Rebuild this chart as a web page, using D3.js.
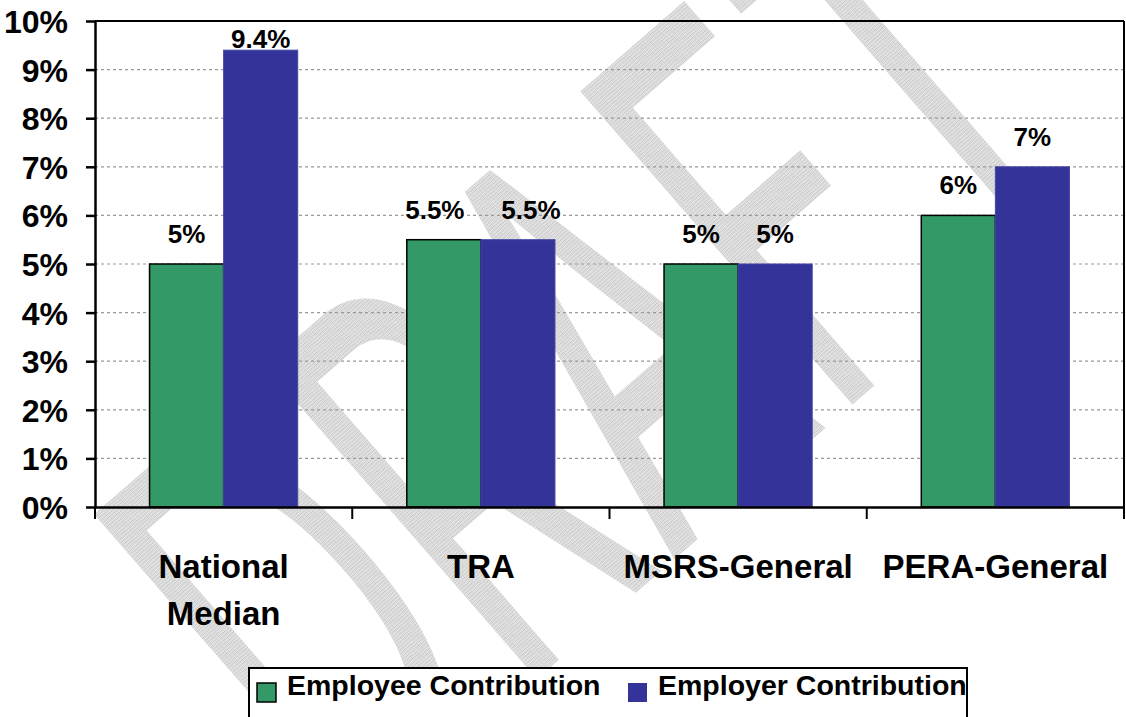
<!DOCTYPE html>
<html>
<head>
<meta charset="utf-8">
<script src="https://cdn.jsdelivr.net/npm/d3@7"></script>
<style>
  body { margin: 0; background: #fff; }
  text { font-family: "Liberation Sans", Arial, sans-serif; font-weight: bold; fill: #000; }
</style>
</head>
<body>
<script>
// data
var categories = ["National Median", "TRA", "MSRS-General", "PERA-General"];
var series = ["Employee Contribution", "Employer Contribution"];
var employee = [0.05, 0.055, 0.05, 0.06];
var employer = [0.094, 0.055, 0.05, 0.07];
var yTickValues = [0, 0.01, 0.02, 0.03, 0.04, 0.05, 0.06, 0.07, 0.08, 0.09, 0.10];

var colors = ["#339966", "#333399"];

// set the dimensions of the plot
var W = 1126, H = 717;
var plotLeft = 95, plotRight = 1124, plotTop = 21, plotBottom = 507;

var svg = d3.select("body")
  .append("svg")
  .attr("width", W)
  .attr("height", H);

// hatched grey for the watermark
var defs = svg.append("defs");
var pat = defs.append("pattern")
  .attr("id", "hatch")
  .attr("width", 3).attr("height", 3)
  .attr("patternUnits", "userSpaceOnUse");
pat.append("rect").attr("width", 3).attr("height", 3).attr("fill", "#e4e4e4");
pat.append("rect").attr("width", 1.5).attr("height", 1.5).attr("fill", "#bcbcbc");

// scales
var x0 = d3.scaleBand()
  .domain(categories)
  .range([plotLeft, plotRight])
  .paddingInner(0.424)
  .paddingOuter(0.212);

var x1 = d3.scaleBand()
  .domain(series)
  .range([0, x0.bandwidth()]);

var y = d3.scaleLinear()
  .domain([0, 0.10])
  .range([plotBottom, plotTop]);

// DRAFT watermark, behind everything
svg.append("text")
  .attr("transform", "translate(600,352) rotate(-41) scale(0.55,1)")
  .attr("text-anchor", "middle")
  .attr("dy", "0.36em")
  .style("font-family", "Inter, 'Liberation Sans', sans-serif")
  .style("font-size", "570px")
  .style("font-weight", "400")
  .style("fill", "url(#hatch)")
  .text("DRAFT");

// gridlines
svg.append("g")
  .selectAll("line")
  .data(yTickValues.filter(function(d) { return d > 0 && d < 0.10; }))
  .enter()
  .append("line")
    .attr("x1", plotLeft)
    .attr("x2", plotRight)
    .attr("y1", function(d) { return y(d); })
    .attr("y2", function(d) { return y(d); })
    .attr("stroke", "#999")
    .attr("stroke-width", 1.2)
    .style("stroke-dasharray", "3,3");

// bars
var groups = svg.append("g")
  .selectAll("g")
  .data(categories)
  .enter()
  .append("g")
    .attr("transform", function(d) { return "translate(" + x0(d) + ",0)"; });

var fmt = d3.format(".1~%");

var barData = function(c, i) {
  // push the two labels apart when they sit at the same height and are wide
  var clash = employee[i] === employer[i] && fmt(employee[i]).length > 2;
  return [
    { s: series[0], v: employee[i], k: 0, dx: clash ? -9 : 0 },
    { s: series[1], v: employer[i], k: 1, dx: clash ? 13 : 0 }
  ];
};

groups.selectAll("rect")
  .data(barData)
  .enter()
  .append("rect")
    .attr("x", function(d) { return x1(d.s); })
    .attr("width", x1.bandwidth())
    .attr("y", function(d) { return y(d.v); })
    .attr("height", function(d) { return y(0) - y(d.v); })
    .attr("fill", function(d) { return colors[d.k]; })
    .attr("stroke", function(d) { return d.k === 0 ? "#000" : "#4646a6"; })
    .attr("stroke-width", function(d) { return d.k === 0 ? 1.5 : 1; });

// value labels
groups.selectAll("text.val")
  .data(barData)
  .enter()
  .append("text")
    .attr("class", "val")
    .attr("x", function(d) { return x1(d.s) + x1.bandwidth() / 2 + d.dx; })
    .attr("y", function(d) { return Math.max(y(d.v) - 21, 48); })
    .attr("text-anchor", "middle")
    .style("font-size", "26px")
    .text(function(d) { return fmt(d.v); });

// plot frame top and right
svg.append("line")
  .attr("x1", plotLeft).attr("x2", plotRight).attr("y1", plotTop).attr("y2", plotTop)
  .attr("stroke", "#000").attr("stroke-width", 2);
svg.append("line")
  .attr("x1", plotRight).attr("x2", plotRight).attr("y1", plotTop).attr("y2", plotBottom)
  .attr("stroke", "#000").attr("stroke-width", 2);

// Y axis
var yAxis = svg.append("g")
  .attr("transform", "translate(" + plotLeft + ",0)")
  .call(d3.axisLeft(y)
    .tickValues(yTickValues)
    .tickFormat(d3.format(".0%"))
    .tickSize(9)
    .tickSizeOuter(0)
    .tickPadding(18));
yAxis.select(".domain").attr("stroke-width", 2.5);
yAxis.selectAll(".tick line").attr("stroke-width", 2.5);
yAxis.selectAll(".tick text")
  .style("font-size", "32px")
  .attr("dy", "0.36em");

// X axis
var xAxis = svg.append("g")
  .attr("transform", "translate(0," + plotBottom + ")")
  .call(d3.axisBottom(x0).tickSize(0).tickSizeOuter(0));
xAxis.select(".domain").attr("stroke-width", 2.5);

xAxis.selectAll(".tick text").each(function(d) {
  var t = d3.select(this);
  var words = d.split(" ");
  t.text(null)
    .attr("y", 71)
    .attr("dy", 0)
    .style("font-size", "33px");
  words.forEach(function(w, i) {
    t.append("tspan")
      .attr("x", 0)
      .attr("dy", i === 0 ? 0 : 47)
      .text(w);
  });
});

// category boundary ticks
xAxis.selectAll("line.bound")
  .data(d3.range(categories.length + 1))
  .enter()
  .append("line")
    .attr("class", "bound")
    .attr("x1", function(i) { return x0.range()[0] + i * x0.step(); })
    .attr("x2", function(i) { return x0.range()[0] + i * x0.step(); })
    .attr("y1", 0)
    .attr("y2", 12)
    .attr("stroke", "#000")
    .attr("stroke-width", 2);

// legend
var legend = svg.append("g");
legend.append("rect")
  .attr("x", 249).attr("y", 668)
  .attr("width", 718).attr("height", 70)
  .attr("fill", "#fff")
  .attr("stroke", "#000")
  .attr("stroke-width", 2);

var legendX = [257, 628];
var items = legend.selectAll("g")
  .data(series)
  .enter()
  .append("g")
    .attr("transform", function(d, i) { return "translate(" + legendX[i] + ",0)"; });

items.append("rect")
  .attr("x", 0).attr("y", 683)
  .attr("width", 19).attr("height", 19)
  .attr("fill", function(d, i) { return colors[i]; })
  .attr("stroke", function(d, i) { return i === 0 ? "#000" : "none"; })
  .attr("stroke-width", 1.5);

items.append("text")
  .attr("x", 30)
  .attr("y", 695)
  .style("font-size", "28.5px")
  .text(function(d) { return d; });
</script>
</body>
</html>
